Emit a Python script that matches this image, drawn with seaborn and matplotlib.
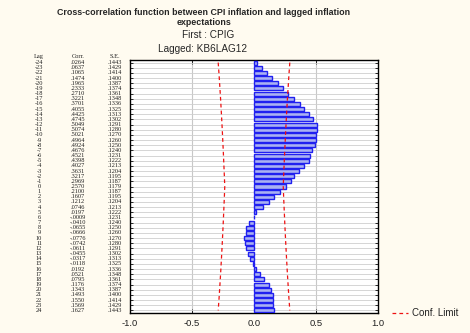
import numpy as np
import pandas as pd
import matplotlib
matplotlib.use("Agg")
import matplotlib.pyplot as plt
import seaborn as sns
from matplotlib.transforms import blended_transform_factory
from matplotlib.lines import Line2D

# Cross-correlation of CPIG with lagged KB6LAG12
lags = list(range(-24, 25))
corr = [0.0264, 0.0637, 0.1065, 0.1474, 0.1965, 0.2333, 0.2710, 0.3221,
        0.3701, 0.4055, 0.4425, 0.4745, 0.5049, 0.5074, 0.5021, 0.4964,
        0.4924, 0.4676, 0.4521, 0.4398, 0.4027, 0.3631, 0.3217, 0.2969,
        0.2570,
        0.2100, 0.1607, 0.1212, 0.0746, 0.0197, -0.0009, -0.0410, -0.0655,
        -0.0666, -0.0776, -0.0742, -0.0611, -0.0455, -0.0317, -0.0118, 0.0192,
        0.0521, 0.0795, 0.1176, 0.1343, 0.1493, 0.1550, 0.1569, 0.1627]
se = [0.1443, 0.1429, 0.1414, 0.1400, 0.1387, 0.1374, 0.1361, 0.1348,
      0.1336, 0.1325, 0.1313, 0.1302, 0.1291, 0.1280, 0.1270, 0.1260,
      0.1250, 0.1240, 0.1231, 0.1222, 0.1213, 0.1204, 0.1195, 0.1187,
      0.1179,
      0.1187, 0.1195, 0.1204, 0.1213, 0.1222, 0.1231, 0.1240, 0.1250,
      0.1260, 0.1270, 0.1280, 0.1291, 0.1302, 0.1313, 0.1325, 0.1336,
      0.1348, 0.1361, 0.1374, 0.1387, 0.1400, 0.1414, 0.1429, 0.1443]
x_ticks = [-1.0, -0.5, 0.0, 0.5, 1.0]

title = "Cross-correlation function between CPI inflation and lagged inflation\nexpectations"
sub1 = "First : CPIG"
sub2 = "Lagged: KB6LAG12"

sns.set_style("white")
plt.rcParams["font.family"] = ["Liberation Sans", "DejaVu Sans"]

W, H = 470, 333
bg = "#fffbf0"
fig = plt.figure(figsize=(W / 100, H / 100), dpi=100, facecolor=bg)
ax = fig.add_axes([130 / W, 1 - 313 / H, 248 / W, 253 / H])
ax.set_facecolor("white")

df = pd.DataFrame({"lag": [str(l) for l in lags], "corr": corr})
order = [str(l) for l in lags]
sns.barplot(data=df, x="corr", y="lag", order=order, orient="h",
            color="#aab1f2", saturation=1, width=0.78,
            edgecolor="#2020f0", linewidth=1.0, ax=ax, zorder=3)

# confidence limits (+/- 2 S.E.)
pos = np.arange(len(lags))
upper = [2 * s for s in se]
lower = [-2 * s for s in se]
ax.plot(upper, pos, color="#ee1111", ls=(0, (3, 2.5)), lw=0.9, zorder=4)
ax.plot(lower, pos, color="#ee1111", ls=(0, (3, 2.5)), lw=0.9, zorder=4)

ax.set_xlim(-1, 1)
ax.set_ylim(len(lags) - 0.5, -0.5)
ax.set_xticks(x_ticks)
ax.set_xticklabels([f"{t:.1f}" for t in x_ticks], fontsize=6.8)
ax.set_yticks(pos)
ax.set_yticklabels([])
ax.set_xlabel("")
ax.set_ylabel("")
ax.tick_params(axis="y", direction="in", length=2.5, width=0.7,
               left=True, right=True)
ax.tick_params(axis="x", direction="in", length=3, width=0.7,
               top=True, bottom=True, pad=4, labelcolor="#222222")
for sp in ax.spines.values():
    sp.set_color("black")
    sp.set_linewidth(1.0)
ax.grid(axis="y", color="#cfcfcf", lw=0.6, zorder=0)
for xv in [-0.5, 0.5]:
    ax.axvline(xv, color="#c8c8c8", lw=0.8, zorder=0)

# left-hand table of values
trans = blended_transform_factory(fig.transFigure, ax.transData)
tfont = dict(family=["Liberation Serif", "DejaVu Serif"], fontsize=4.6,
             color="#222222", va="center", ha="center", transform=trans)


def fmt(v):
    return f"{v:.4f}".replace("0.", ".", 1)


fig.text(39 / W, -1.1, "Lag", **tfont)
fig.text(78 / W, -1.1, "Corr.", **tfont)
fig.text(115 / W, -1.1, "S.E.", **tfont)
for i, (l, c, s) in enumerate(zip(lags, corr, se)):
    fig.text(39 / W, i, str(l), **tfont)
    fig.text(78 / W, i, fmt(c), **tfont)
    fig.text(115 / W, i, fmt(s), **tfont)

# titles
fig.text(204 / W, 1 - 17.5 / H, title, ha="center", va="center",
         fontsize=6.4, fontweight="bold", linespacing=1.2)
fig.text(208 / W, 1 - 35 / H, sub1, ha="center", va="center", fontsize=7.2)
fig.text(202 / W, 1 - 49 / H, sub2, ha="center", va="center", fontsize=7.2)

# legend entry
fig.add_artist(Line2D([392 / W, 408 / W], [1 - 313 / H, 1 - 313 / H],
                      transform=fig.transFigure, color="#ee1111",
                      ls=(0, (3, 2.5)), lw=0.9))
fig.text(412 / W, 1 - 313 / H, "Conf. Limit", ha="left", va="center",
         fontsize=7.0, color="#222222")

fig.savefig("out.png", dpi=100, facecolor=bg)
